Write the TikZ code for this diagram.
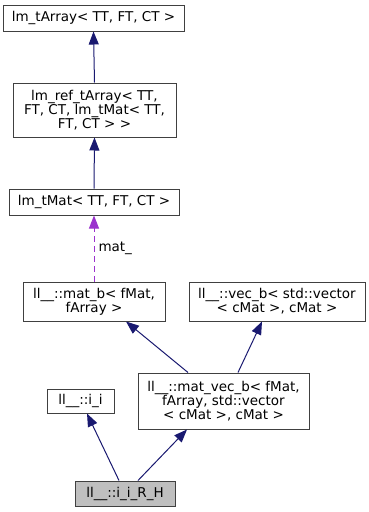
\documentclass[tikz,border=0pt]{standalone}
\usepackage{fontspec}
\setmainfont{DejaVu Sans}
\usetikzlibrary{arrows.meta}
\definecolor{edgeblue}{HTML}{191970}
\definecolor{edgepurple}{HTML}{9A32CD}
\definecolor{boxline}{HTML}{404040}
\definecolor{boxgray}{HTML}{BFBFBF}
\begin{document}
\begin{tikzpicture}[x=1pt,y=-1pt,
  classbox/.style={draw=boxline, line width=1pt, fill=white, align=center,
    inner sep=0pt, font=\fontsize{13.5}{14}\selectfont},
  current/.style={classbox, fill=boxgray},
  inherit/.style={draw=edgeblue, line width=1pt,
    -{Triangle[length=13pt,width=10pt]}},
  usage/.style={draw=edgepurple, line width=1pt, dash pattern=on 6pt off 4pt,
    -{Triangle[length=13pt,width=10pt]}},
  edgelabel/.style={font=\fontsize{13.5}{14}\selectfont, anchor=west, inner sep=0pt}]
\useasboundingbox (0,0) rectangle (369,512);

\node[classbox, minimum width=181pt, minimum height=26pt] (tarr) at (93.5,18)
  {lm\_tArray< TT, FT, CT >};
\node[classbox, minimum width=163pt, minimum height=54pt] (reftarr) at (94.5,110)
  {lm\_ref\_tArray< TT,\\FT, CT, lm\_tMat< TT,\\FT, CT > >};
\node[classbox, minimum width=170pt, minimum height=26pt] (tmat) at (94,202)
  {lm\_tMat< TT, FT, CT >};
\node[classbox, minimum width=142pt, minimum height=39pt] (matb) at (94,301.5)
  {ll\_\_::mat\_b< fMat,\\fArray >};
\node[classbox, minimum width=176pt, minimum height=39pt] (vecb) at (277,301.5)
  {ll\_\_::vec\_b< std::vector\\< cMat >, cMat >};
\node[classbox, minimum width=171pt, minimum height=56pt] (matvec) at (223.5,401)
  {ll\_\_::mat\_vec\_b< fMat,\\fArray, std::vector\\< cMat >, cMat >};
\node[classbox, minimum width=67pt, minimum height=24pt] (ii) at (80.5,401)
  {ll\_\_::i\_i};
\node[current, minimum width=100pt, minimum height=25pt] (irh) at (125,493.5)
  {ll\_\_::i\_i\_R\_H};

\draw[inherit] (reftarr.north) -- (tarr.south);
\draw[inherit] (tmat.north) -- (reftarr.south);
\draw[usage] (matb.north) -- node[edgelabel, xshift=4pt] {mat\_} (tmat.south);
\draw[inherit] ([xshift=-35.5pt]matvec.north) -- ([xshift=32pt]matb.south);
\draw[inherit] ([xshift=14.5pt]matvec.north) -- ([xshift=-15pt]vecb.south);
\draw[inherit] ([xshift=-6pt]irh.north) -- ([xshift=6.5pt]ii.south);
\draw[inherit] ([xshift=13pt]irh.north) -- ([xshift=-36.5pt]matvec.south);
\end{tikzpicture}
\end{document}
